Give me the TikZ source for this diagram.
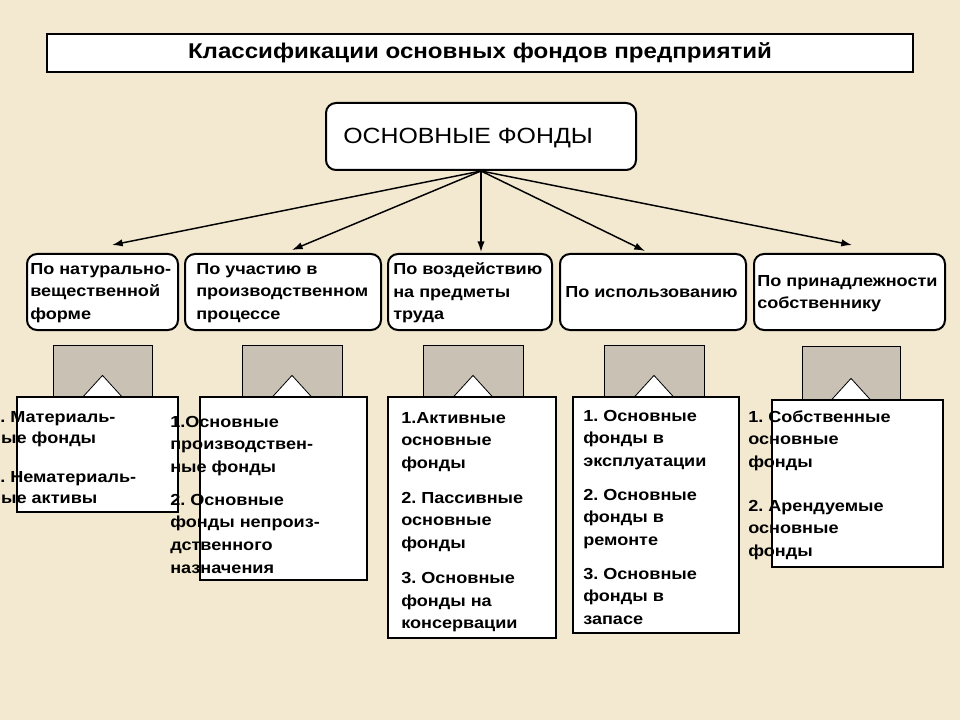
\documentclass[tikz,border=0pt]{standalone}
\usepackage{fontspec}
\setmainfont[FakeStretch=1.13]{Liberation Sans}
\usetikzlibrary{arrows.meta}
\definecolor{bg}{RGB}{243,233,208}
\definecolor{tan}{RGB}{201,193,180}
\tikzset{
  titlebox/.style={draw, fill=white, line width=2.2pt, inner sep=0, font=\fontsize{16}{19}\selectfont\bfseries},
  mainbox/.style={draw, fill=white, rounded corners=7.5pt, line width=1.5pt, inner sep=0},
  catbox/.style={draw, fill=white, rounded corners=7.5pt, line width=1.5pt, inner sep=0},
  cattext/.style={font=\fontsize{12}{16.9}\selectfont\bfseries, align=left, inner sep=0},
  listtext/.style={font=\fontsize{12}{16.9}\selectfont\bfseries, align=left, inner sep=0, anchor=north west},
  graybox/.style={draw, fill=tan, line width=0.6pt, inner sep=0},
  notch/.style={draw, fill=white, line width=0.6pt},
  listbox/.style={draw, fill=white, line width=2.2pt, inner sep=0},
  arr/.style={line width=1.1pt, -{Latex[length=8pt,width=5.5pt]}}
}
\newcommand{\fl}{\rule{0pt}{12pt}}
\frenchspacing
\begin{document}
\frenchspacing
\begin{tikzpicture}[x=0.75pt,y=-0.75pt]
\useasboundingbox (0,0) rectangle (960,720);
\clip (0,0) rectangle (960,720);
\fill[bg] (0,0) rectangle (960,720);

% title
\node[titlebox, minimum width={866*0.75pt}, minimum height={38*0.75pt}] (title) at (480,53) {Классификации основных фондов предприятий};

% main box
\node[mainbox, minimum width={310*0.75pt}, minimum height={67*0.75pt}] (main) at (481,136.5) {};
\node[anchor=west, inner sep=0, font=\fontsize{16.5}{20}\selectfont] (maintext) at (343,138) {ОСНОВНЫЕ ФОНДЫ};

% category boxes
\node[catbox, minimum width={151*0.75pt}, minimum height={76*0.75pt}] (c1) at (102.5,292) {};
\node[catbox, minimum width={196*0.75pt}, minimum height={76*0.75pt}] (c2) at (283,292) {};
\node[catbox, minimum width={164*0.75pt}, minimum height={76*0.75pt}] (c3) at (470,292) {};
\node[catbox, minimum width={186*0.75pt}, minimum height={76*0.75pt}] (c4) at (653,292) {};
\node[catbox, minimum width={191*0.75pt}, minimum height={76*0.75pt}] (c5) at (849.5,292) {};

\node[cattext, anchor=west] (t1) at (30,293) {По натурально-\\вещественной\\форме};
\node[cattext, anchor=west] (t2) at (196,293) {По участию в\\производственном\\процессе};
\node[cattext, anchor=west] (t3) at (393,293) {По воздействию\\на предметы\\труда};
\node[cattext, anchor=west] (t4) at (565,292) {По использованию};
\node[cattext, anchor=west] (t5) at (757,293.5) {По принадлежности\\собственнику};

% arrows
\coordinate (e1) at (112,245);
\coordinate (e2) at (292,250);
\coordinate (e3) at (481,252);
\coordinate (e4) at (645,251);
\coordinate (e5) at (852,245);
\foreach \e in {e1,e2,e3,e4,e5} \draw[arr] (main.south) -- (\e);

% gray boxes with notches
\node[graybox, minimum width={99*0.75pt}, minimum height={52*0.75pt}] (g1) at (102.5,371) {};
\node[graybox, minimum width={100*0.75pt}, minimum height={52*0.75pt}] (g2) at (292,371) {};
\node[graybox, minimum width={100*0.75pt}, minimum height={52*0.75pt}] (g3) at (473,371) {};
\node[graybox, minimum width={100*0.75pt}, minimum height={52*0.75pt}] (g4) at (654,371) {};
\node[graybox, minimum width={98*0.75pt}, minimum height={54*0.75pt}] (g5) at (851,373) {};
\foreach \g in {g1,g2,g3,g4,g5}
  \filldraw[notch] ([xshift=-15pt]\g.south) -- ([yshift=16.5pt]\g.south) -- ([xshift=15pt]\g.south);

% white list boxes
\node[listbox, minimum width={161*0.75pt}, minimum height={115*0.75pt}] (w1) at (97.5,454.5) {};
\node[listbox, minimum width={167*0.75pt}, minimum height={183*0.75pt}] (w2) at (283.5,488.5) {};
\node[listbox, minimum width={168*0.75pt}, minimum height={241*0.75pt}] (w3) at (472,517.5) {};
\node[listbox, minimum width={166*0.75pt}, minimum height={236*0.75pt}] (w4) at (656,515) {};
\node[listbox, minimum width={171*0.75pt}, minimum height={167*0.75pt}] (w5) at (857.5,483.5) {};

% list texts
\node[listtext, font=\fontsize{12}{15.75}\selectfont\bfseries] (l1) at (-10,406)
  {\fl 1. Материаль-\\ные фонды\\[13.5pt]2. Нематериаль-\\ные активы};
\node[listtext] (l2) at (170,411)
  {\fl 1.Основные\\производствен-\\ные фонды\\[7.9pt]2. Основные\\фонды непроиз-\\дственного\\назначения};
\node[listtext] (l3) at (401,407)
  {\fl 1.Активные\\основные\\фонды\\[9.4pt]2. Пассивные\\основные\\фонды\\[9.4pt]3. Основные\\фонды на\\консервации};
\node[listtext] (l4) at (583,405)
  {\fl 1. Основные\\фонды в\\эксплуатации\\[8.6pt]2. Основные\\фонды в\\ремонте\\[8.6pt]3. Основные\\фонды в\\запасе};
\node[listtext] (l5) at (748,406)
  {\fl 1. Собственные\\основные\\фонды\\[16pt]2. Арендуемые\\основные\\фонды};
\end{tikzpicture}
\end{document}
